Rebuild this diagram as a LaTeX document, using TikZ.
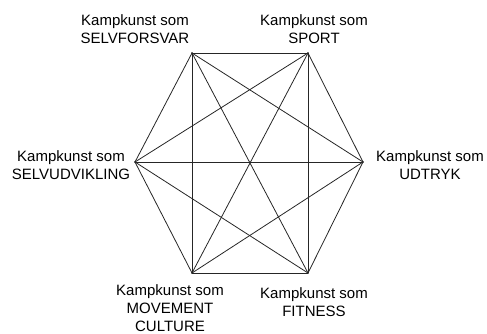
\documentclass[tikz,border=0pt]{standalone}
\usepackage{fontspec}
\setmainfont{Liberation Sans}
\usepackage{tikz}
\usetikzlibrary{positioning}

\begin{document}
\begin{tikzpicture}[x=1pt, y=-1pt,
  hjorne/.style={circle, fill=black, inner sep=0pt, minimum size=1.6pt},
  etiket/.style={align=center, inner sep=0pt, font=\fontsize{15}{18}\selectfont},
  kant/.style={line width=0.8pt, black!85}
]
  \useasboundingbox (0,0) rectangle (487,334);
  % hjoerner i sekskanten
  \node[hjorne] (fors) at (192,53) {};
  \node[hjorne] (sport) at (308,53) {};
  \node[hjorne] (udtr) at (363,162) {};
  \node[hjorne] (fit) at (308,273) {};
  \node[hjorne] (move) at (192,273) {};
  \node[hjorne] (udv) at (135,162) {};
  % alle forbindelser
  \foreach \a/\b in {fors/sport, fors/udtr, fors/fit, fors/move, fors/udv,
                     sport/udtr, sport/fit, sport/move, sport/udv,
                     udtr/fit, udtr/move, udtr/udv,
                     fit/move, fit/udv, move/udv}
    \draw[kant] (\a.center) -- (\b.center);
  % etiketter
  \node[etiket] (l-fors) at (135,29) {Kampkunst som\\SELVFORSVAR};
  \node[etiket] (l-sport) at (314,29) {Kampkunst som\\SPORT};
  \node[etiket] (l-udv) at (71,165) {Kampkunst som\\SELVUDVIKLING};
  \node[etiket] (l-udtr) at (430,165) {Kampkunst som\\UDTRYK};
  \node[etiket] (l-move) at (170,308.5) {Kampkunst som\\MOVEMENT\\CULTURE};
  \node[etiket] (l-fit) at (314,302) {Kampkunst som\\FITNESS};
\end{tikzpicture}
\end{document}
